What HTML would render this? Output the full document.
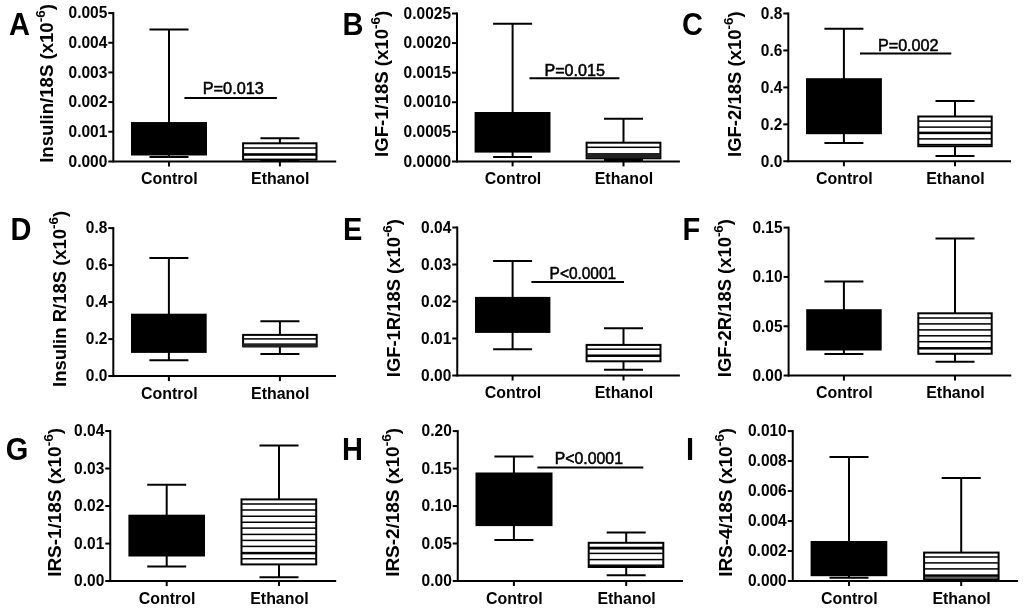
<!DOCTYPE html>
<html><head><meta charset="utf-8"><style>
html,body{margin:0;padding:0;background:#fff;}
body{width:1024px;height:611px;overflow:hidden;}
svg{display:block;filter:blur(0.45px);}
text{font-family:"Liberation Sans",sans-serif;fill:#000;}
</style></head><body>
<svg width="1024" height="611" viewBox="0 0 1024 611">
<rect width="1024" height="611" fill="#fff"/>
<g stroke="#000" stroke-linecap="butt">
<line x1="113.3" y1="12.1" x2="113.3" y2="162.4" stroke-width="2"/>
<line x1="108.3" y1="161.4" x2="336.2" y2="161.4" stroke-width="2"/>
<line x1="108.3" y1="131.74" x2="113.3" y2="131.74" stroke-width="2"/>
<line x1="108.3" y1="102.08" x2="113.3" y2="102.08" stroke-width="2"/>
<line x1="108.3" y1="72.42" x2="113.3" y2="72.42" stroke-width="2"/>
<line x1="108.3" y1="42.76" x2="113.3" y2="42.76" stroke-width="2"/>
<line x1="108.3" y1="13.1" x2="113.3" y2="13.1" stroke-width="2"/>
<line x1="169" y1="161.4" x2="169" y2="166.4" stroke-width="2"/>
<line x1="279.9" y1="161.4" x2="279.9" y2="166.4" stroke-width="2"/>
<line x1="169" y1="29.4" x2="169" y2="157" stroke-width="2"/>
<line x1="149.5" y1="29.4" x2="188.5" y2="29.4" stroke-width="2"/>
<line x1="149.5" y1="157" x2="188.5" y2="157" stroke-width="2"/>
<line x1="279.9" y1="138.25" x2="279.9" y2="160" stroke-width="2"/>
<line x1="260.4" y1="138.25" x2="299.4" y2="138.25" stroke-width="2"/>
<line x1="260.4" y1="160" x2="299.4" y2="160" stroke-width="2"/>
<line x1="184.4" y1="97.95" x2="276.9" y2="97.95" stroke-width="2"/>
</g>
<rect x="131" y="122.05" width="76" height="33.45" fill="#000"/>
<rect x="243.1" y="143.3" width="73.4" height="16.3" fill="#fff" stroke="#000" stroke-width="2"/>
<rect x="243.1" y="147.25" width="73.4" height="1.5" fill="#000"/>
<rect x="243.1" y="153.2" width="73.4" height="2.6" fill="#000"/>
<text transform="translate(107.3,161.4) scale(1,1.075)" y="4.88" font-size="15.5" text-anchor="end" font-weight="bold">0.000</text>
<text transform="translate(107.3,131.74) scale(1,1.075)" y="4.88" font-size="15.5" text-anchor="end" font-weight="bold">0.001</text>
<text transform="translate(107.3,102.08) scale(1,1.075)" y="4.88" font-size="15.5" text-anchor="end" font-weight="bold">0.002</text>
<text transform="translate(107.3,72.42) scale(1,1.075)" y="4.88" font-size="15.5" text-anchor="end" font-weight="bold">0.003</text>
<text transform="translate(107.3,42.76) scale(1,1.075)" y="4.88" font-size="15.5" text-anchor="end" font-weight="bold">0.004</text>
<text transform="translate(107.3,13.1) scale(1,1.075)" y="4.88" font-size="15.5" text-anchor="end" font-weight="bold">0.005</text>
<text transform="translate(169.4,183.9) scale(1.028,1.05)" font-size="15.5" text-anchor="middle" font-weight="bold">Control</text>
<text transform="translate(280.3,183.9) scale(1.028,1.05)" font-size="15.5" text-anchor="middle" font-weight="bold">Ethanol</text>
<text transform="translate(9,34.55) scale(1,1.06)" font-size="29" font-weight="bold">A</text>
<text transform="translate(53,83.45) rotate(-90) scale(1.022,1)" x="0" y="0" font-size="18.2" text-anchor="middle" font-weight="bold">Insulin/18S (x10<tspan font-size="13.2" dy="-8">-6</tspan><tspan dy="8">)</tspan></text>
<text transform="translate(202.66,94.3) scale(1.046,1)" font-size="15.6" stroke="#000" stroke-width="0.5">P=0.013</text>
<g stroke="#000" stroke-linecap="butt">
<line x1="457" y1="12.5" x2="457" y2="162.4" stroke-width="2"/>
<line x1="452" y1="161.4" x2="679.9" y2="161.4" stroke-width="2"/>
<line x1="452" y1="131.82" x2="457" y2="131.82" stroke-width="2"/>
<line x1="452" y1="102.24" x2="457" y2="102.24" stroke-width="2"/>
<line x1="452" y1="72.66" x2="457" y2="72.66" stroke-width="2"/>
<line x1="452" y1="43.08" x2="457" y2="43.08" stroke-width="2"/>
<line x1="452" y1="13.5" x2="457" y2="13.5" stroke-width="2"/>
<line x1="512.6" y1="161.4" x2="512.6" y2="166.4" stroke-width="2"/>
<line x1="623.5" y1="161.4" x2="623.5" y2="166.4" stroke-width="2"/>
<line x1="512.6" y1="23.8" x2="512.6" y2="157.1" stroke-width="2"/>
<line x1="493.1" y1="23.8" x2="532.1" y2="23.8" stroke-width="2"/>
<line x1="493.1" y1="157.1" x2="532.1" y2="157.1" stroke-width="2"/>
<line x1="623.5" y1="118.8" x2="623.5" y2="160" stroke-width="2"/>
<line x1="604" y1="118.8" x2="643" y2="118.8" stroke-width="2"/>
<line x1="604" y1="160" x2="643" y2="160" stroke-width="2"/>
<line x1="529.5" y1="78.2" x2="619.4" y2="78.2" stroke-width="2"/>
</g>
<rect x="474.6" y="112" width="75.9" height="40.6" fill="#000"/>
<rect x="586.6" y="142.7" width="73.8" height="15.6" fill="#fff" stroke="#000" stroke-width="2"/>
<rect x="586.6" y="146.55" width="73.8" height="1.5" fill="#000"/>
<rect x="586.6" y="153" width="73.8" height="5.3" fill="#222"/>
<text transform="translate(451,161.4) scale(1,1.075)" y="4.88" font-size="15.5" text-anchor="end" font-weight="bold">0.0000</text>
<text transform="translate(451,131.82) scale(1,1.075)" y="4.88" font-size="15.5" text-anchor="end" font-weight="bold">0.0005</text>
<text transform="translate(451,102.24) scale(1,1.075)" y="4.88" font-size="15.5" text-anchor="end" font-weight="bold">0.0010</text>
<text transform="translate(451,72.66) scale(1,1.075)" y="4.88" font-size="15.5" text-anchor="end" font-weight="bold">0.0015</text>
<text transform="translate(451,43.08) scale(1,1.075)" y="4.88" font-size="15.5" text-anchor="end" font-weight="bold">0.0020</text>
<text transform="translate(451,13.5) scale(1,1.075)" y="4.88" font-size="15.5" text-anchor="end" font-weight="bold">0.0025</text>
<text transform="translate(513,183.9) scale(1.028,1.05)" font-size="15.5" text-anchor="middle" font-weight="bold">Control</text>
<text transform="translate(623.9,183.9) scale(1.028,1.05)" font-size="15.5" text-anchor="middle" font-weight="bold">Ethanol</text>
<text transform="translate(342.6,34.55) scale(1,1.06)" font-size="29" font-weight="bold">B</text>
<text transform="translate(388,83.9) rotate(-90) scale(1.021,1)" x="0" y="0" font-size="18.2" text-anchor="middle" font-weight="bold">IGF-1/18S (x10<tspan font-size="13.2" dy="-8">-6</tspan><tspan dy="8">)</tspan></text>
<text transform="translate(544.43,75.5) scale(1.035,1)" font-size="15.6" stroke="#000" stroke-width="0.5">P=0.015</text>
<g stroke="#000" stroke-linecap="butt">
<line x1="788.3" y1="12.5" x2="788.3" y2="162.3" stroke-width="2"/>
<line x1="783.3" y1="161.3" x2="1011" y2="161.3" stroke-width="2"/>
<line x1="783.3" y1="124.35" x2="788.3" y2="124.35" stroke-width="2"/>
<line x1="783.3" y1="87.4" x2="788.3" y2="87.4" stroke-width="2"/>
<line x1="783.3" y1="50.45" x2="788.3" y2="50.45" stroke-width="2"/>
<line x1="783.3" y1="13.5" x2="788.3" y2="13.5" stroke-width="2"/>
<line x1="843.9" y1="161.3" x2="843.9" y2="166.3" stroke-width="2"/>
<line x1="955" y1="161.3" x2="955" y2="166.3" stroke-width="2"/>
<line x1="843.9" y1="28.8" x2="843.9" y2="143.1" stroke-width="2"/>
<line x1="824.4" y1="28.8" x2="863.4" y2="28.8" stroke-width="2"/>
<line x1="824.4" y1="143.1" x2="863.4" y2="143.1" stroke-width="2"/>
<line x1="955" y1="101" x2="955" y2="155.9" stroke-width="2"/>
<line x1="935.5" y1="101" x2="974.5" y2="101" stroke-width="2"/>
<line x1="935.5" y1="155.9" x2="974.5" y2="155.9" stroke-width="2"/>
<line x1="860" y1="53.6" x2="951.3" y2="53.6" stroke-width="2"/>
</g>
<rect x="806" y="78.2" width="75.9" height="56" fill="#000"/>
<rect x="918.3" y="116.5" width="73.4" height="29.7" fill="#fff" stroke="#000" stroke-width="2"/>
<rect x="918.3" y="120.35" width="73.4" height="1.5" fill="#000"/>
<rect x="918.3" y="126.35" width="73.4" height="1.5" fill="#000"/>
<rect x="918.3" y="131.65" width="73.4" height="2.5" fill="#000"/>
<rect x="918.3" y="138.15" width="73.4" height="1.5" fill="#000"/>
<rect x="918.3" y="143.85" width="73.4" height="1.5" fill="#000"/>
<text transform="translate(782.3,161.3) scale(1,1.075)" y="4.88" font-size="15.5" text-anchor="end" font-weight="bold">0.0</text>
<text transform="translate(782.3,124.35) scale(1,1.075)" y="4.88" font-size="15.5" text-anchor="end" font-weight="bold">0.2</text>
<text transform="translate(782.3,87.4) scale(1,1.075)" y="4.88" font-size="15.5" text-anchor="end" font-weight="bold">0.4</text>
<text transform="translate(782.3,50.45) scale(1,1.075)" y="4.88" font-size="15.5" text-anchor="end" font-weight="bold">0.6</text>
<text transform="translate(782.3,13.5) scale(1,1.075)" y="4.88" font-size="15.5" text-anchor="end" font-weight="bold">0.8</text>
<text transform="translate(844.3,183.8) scale(1.028,1.05)" font-size="15.5" text-anchor="middle" font-weight="bold">Control</text>
<text transform="translate(955.4,183.8) scale(1.028,1.05)" font-size="15.5" text-anchor="middle" font-weight="bold">Ethanol</text>
<text transform="translate(682,34.55) scale(1,1.06)" font-size="29" font-weight="bold">C</text>
<text transform="translate(741,84.2) rotate(-90) scale(1.017,1)" x="0" y="0" font-size="18.2" text-anchor="middle" font-weight="bold">IGF-2/18S (x10<tspan font-size="13.2" dy="-8">-6</tspan><tspan dy="8">)</tspan></text>
<text transform="translate(877.92,50.6) scale(1.036,1)" font-size="15.6" stroke="#000" stroke-width="0.5">P=0.002</text>
<g stroke="#000" stroke-linecap="butt">
<line x1="113.3" y1="227.1" x2="113.3" y2="377.1" stroke-width="2"/>
<line x1="108.3" y1="376.1" x2="336" y2="376.1" stroke-width="2"/>
<line x1="108.3" y1="339.1" x2="113.3" y2="339.1" stroke-width="2"/>
<line x1="108.3" y1="302.1" x2="113.3" y2="302.1" stroke-width="2"/>
<line x1="108.3" y1="265.1" x2="113.3" y2="265.1" stroke-width="2"/>
<line x1="108.3" y1="228.1" x2="113.3" y2="228.1" stroke-width="2"/>
<line x1="168.9" y1="376.1" x2="168.9" y2="381.1" stroke-width="2"/>
<line x1="279.9" y1="376.1" x2="279.9" y2="381.1" stroke-width="2"/>
<line x1="168.9" y1="257.9" x2="168.9" y2="360.2" stroke-width="2"/>
<line x1="149.4" y1="257.9" x2="188.4" y2="257.9" stroke-width="2"/>
<line x1="149.4" y1="360.2" x2="188.4" y2="360.2" stroke-width="2"/>
<line x1="279.9" y1="321.15" x2="279.9" y2="354.1" stroke-width="2"/>
<line x1="260.4" y1="321.15" x2="299.4" y2="321.15" stroke-width="2"/>
<line x1="260.4" y1="354.1" x2="299.4" y2="354.1" stroke-width="2"/>
</g>
<rect x="131" y="313.7" width="75.7" height="39.2" fill="#000"/>
<rect x="243.1" y="334.9" width="73.6" height="11.4" fill="#fff" stroke="#000" stroke-width="2"/>
<rect x="243.1" y="338.15" width="73.6" height="1.5" fill="#000"/>
<rect x="243.1" y="343.3" width="73.6" height="4" fill="#222"/>
<text transform="translate(107.3,376.1) scale(1,1.075)" y="4.88" font-size="15.5" text-anchor="end" font-weight="bold">0.0</text>
<text transform="translate(107.3,339.1) scale(1,1.075)" y="4.88" font-size="15.5" text-anchor="end" font-weight="bold">0.2</text>
<text transform="translate(107.3,302.1) scale(1,1.075)" y="4.88" font-size="15.5" text-anchor="end" font-weight="bold">0.4</text>
<text transform="translate(107.3,265.1) scale(1,1.075)" y="4.88" font-size="15.5" text-anchor="end" font-weight="bold">0.6</text>
<text transform="translate(107.3,228.1) scale(1,1.075)" y="4.88" font-size="15.5" text-anchor="end" font-weight="bold">0.8</text>
<text transform="translate(169.3,398.6) scale(1.028,1.05)" font-size="15.5" text-anchor="middle" font-weight="bold">Control</text>
<text transform="translate(280.3,398.6) scale(1.028,1.05)" font-size="15.5" text-anchor="middle" font-weight="bold">Ethanol</text>
<text transform="translate(10.6,239.8) scale(1,1.06)" font-size="29" font-weight="bold">D</text>
<text transform="translate(66,298.9) rotate(-90) scale(1.016,1)" x="0" y="0" font-size="18.2" text-anchor="middle" font-weight="bold">Insulin R/18S (x10<tspan font-size="13.2" dy="-8">-6</tspan><tspan dy="8">)</tspan></text>
<g stroke="#000" stroke-linecap="butt">
<line x1="457.25" y1="226.5" x2="457.25" y2="376.5" stroke-width="2"/>
<line x1="452.25" y1="375.5" x2="679.9" y2="375.5" stroke-width="2"/>
<line x1="452.25" y1="338.5" x2="457.25" y2="338.5" stroke-width="2"/>
<line x1="452.25" y1="301.5" x2="457.25" y2="301.5" stroke-width="2"/>
<line x1="452.25" y1="264.5" x2="457.25" y2="264.5" stroke-width="2"/>
<line x1="452.25" y1="227.5" x2="457.25" y2="227.5" stroke-width="2"/>
<line x1="512.6" y1="375.5" x2="512.6" y2="380.5" stroke-width="2"/>
<line x1="623.5" y1="375.5" x2="623.5" y2="380.5" stroke-width="2"/>
<line x1="512.6" y1="261" x2="512.6" y2="349.2" stroke-width="2"/>
<line x1="493.1" y1="261" x2="532.1" y2="261" stroke-width="2"/>
<line x1="493.1" y1="349.2" x2="532.1" y2="349.2" stroke-width="2"/>
<line x1="623.5" y1="328.3" x2="623.5" y2="369.7" stroke-width="2"/>
<line x1="604" y1="328.3" x2="643" y2="328.3" stroke-width="2"/>
<line x1="604" y1="369.7" x2="643" y2="369.7" stroke-width="2"/>
<line x1="531.4" y1="281.9" x2="624" y2="281.9" stroke-width="2"/>
</g>
<rect x="475" y="296.9" width="75.4" height="36" fill="#000"/>
<rect x="586.6" y="344.9" width="73.9" height="16.4" fill="#fff" stroke="#000" stroke-width="2"/>
<rect x="586.6" y="348.45" width="73.9" height="1.5" fill="#000"/>
<rect x="586.6" y="354.45" width="73.9" height="2.5" fill="#000"/>
<text transform="translate(451.25,375.5) scale(1,1.075)" y="4.88" font-size="15.5" text-anchor="end" font-weight="bold">0.00</text>
<text transform="translate(451.25,338.5) scale(1,1.075)" y="4.88" font-size="15.5" text-anchor="end" font-weight="bold">0.01</text>
<text transform="translate(451.25,301.5) scale(1,1.075)" y="4.88" font-size="15.5" text-anchor="end" font-weight="bold">0.02</text>
<text transform="translate(451.25,264.5) scale(1,1.075)" y="4.88" font-size="15.5" text-anchor="end" font-weight="bold">0.03</text>
<text transform="translate(451.25,227.5) scale(1,1.075)" y="4.88" font-size="15.5" text-anchor="end" font-weight="bold">0.04</text>
<text transform="translate(513,398) scale(1.028,1.05)" font-size="15.5" text-anchor="middle" font-weight="bold">Control</text>
<text transform="translate(623.9,398) scale(1.028,1.05)" font-size="15.5" text-anchor="middle" font-weight="bold">Ethanol</text>
<text transform="translate(343,239.8) scale(1,1.06)" font-size="29" font-weight="bold">E</text>
<text transform="translate(399.6,298.15) rotate(-90) scale(1.012,1)" x="0" y="0" font-size="18.2" text-anchor="middle" font-weight="bold">IGF-1R/18S (x10<tspan font-size="13.2" dy="-8">-6</tspan><tspan dy="8">)</tspan></text>
<text transform="translate(549.58,278.5) scale(0.991,1)" font-size="15.6" stroke="#000" stroke-width="0.5">P&lt;0.0001</text>
<g stroke="#000" stroke-linecap="butt">
<line x1="788.6" y1="226.6" x2="788.6" y2="376.6" stroke-width="2"/>
<line x1="783.6" y1="375.6" x2="1011.3" y2="375.6" stroke-width="2"/>
<line x1="783.6" y1="326.27" x2="788.6" y2="326.27" stroke-width="2"/>
<line x1="783.6" y1="276.93" x2="788.6" y2="276.93" stroke-width="2"/>
<line x1="783.6" y1="227.6" x2="788.6" y2="227.6" stroke-width="2"/>
<line x1="843.9" y1="375.6" x2="843.9" y2="380.6" stroke-width="2"/>
<line x1="955" y1="375.6" x2="955" y2="380.6" stroke-width="2"/>
<line x1="843.9" y1="281.55" x2="843.9" y2="353.9" stroke-width="2"/>
<line x1="824.4" y1="281.55" x2="863.4" y2="281.55" stroke-width="2"/>
<line x1="824.4" y1="353.9" x2="863.4" y2="353.9" stroke-width="2"/>
<line x1="955" y1="238.55" x2="955" y2="361.8" stroke-width="2"/>
<line x1="935.5" y1="238.55" x2="974.5" y2="238.55" stroke-width="2"/>
<line x1="935.5" y1="361.8" x2="974.5" y2="361.8" stroke-width="2"/>
</g>
<rect x="806.2" y="309.2" width="75.5" height="41.3" fill="#000"/>
<rect x="918.3" y="313.3" width="73.4" height="40.5" fill="#fff" stroke="#000" stroke-width="2"/>
<rect x="918.3" y="317.25" width="73.4" height="1.5" fill="#000"/>
<rect x="918.3" y="323.15" width="73.4" height="1.5" fill="#000"/>
<rect x="918.3" y="329.15" width="73.4" height="1.5" fill="#000"/>
<rect x="918.3" y="335.05" width="73.4" height="1.5" fill="#000"/>
<rect x="918.3" y="340.95" width="73.4" height="1.5" fill="#000"/>
<rect x="918.3" y="347.05" width="73.4" height="2.5" fill="#000"/>
<text transform="translate(782.6,375.6) scale(1,1.075)" y="4.88" font-size="15.5" text-anchor="end" font-weight="bold">0.00</text>
<text transform="translate(782.6,326.27) scale(1,1.075)" y="4.88" font-size="15.5" text-anchor="end" font-weight="bold">0.05</text>
<text transform="translate(782.6,276.93) scale(1,1.075)" y="4.88" font-size="15.5" text-anchor="end" font-weight="bold">0.10</text>
<text transform="translate(782.6,227.6) scale(1,1.075)" y="4.88" font-size="15.5" text-anchor="end" font-weight="bold">0.15</text>
<text transform="translate(844.3,398.1) scale(1.028,1.05)" font-size="15.5" text-anchor="middle" font-weight="bold">Control</text>
<text transform="translate(955.4,398.1) scale(1.028,1.05)" font-size="15.5" text-anchor="middle" font-weight="bold">Ethanol</text>
<text transform="translate(682.4,239.8) scale(1,1.06)" font-size="29" font-weight="bold">F</text>
<text transform="translate(730.7,298.15) rotate(-90) scale(1.012,1)" x="0" y="0" font-size="18.2" text-anchor="middle" font-weight="bold">IGF-2R/18S (x10<tspan font-size="13.2" dy="-8">-6</tspan><tspan dy="8">)</tspan></text>
<g stroke="#000" stroke-linecap="butt">
<line x1="110.25" y1="430" x2="110.25" y2="582.1" stroke-width="2"/>
<line x1="105.25" y1="581.1" x2="336.2" y2="581.1" stroke-width="2"/>
<line x1="105.25" y1="543.58" x2="110.25" y2="543.58" stroke-width="2"/>
<line x1="105.25" y1="506.05" x2="110.25" y2="506.05" stroke-width="2"/>
<line x1="105.25" y1="468.52" x2="110.25" y2="468.52" stroke-width="2"/>
<line x1="105.25" y1="431" x2="110.25" y2="431" stroke-width="2"/>
<line x1="166.7" y1="581.1" x2="166.7" y2="586.1" stroke-width="2"/>
<line x1="279" y1="581.1" x2="279" y2="586.1" stroke-width="2"/>
<line x1="166.7" y1="484.7" x2="166.7" y2="566.5" stroke-width="2"/>
<line x1="147.2" y1="484.7" x2="186.2" y2="484.7" stroke-width="2"/>
<line x1="147.2" y1="566.5" x2="186.2" y2="566.5" stroke-width="2"/>
<line x1="279" y1="445.6" x2="279" y2="577.3" stroke-width="2"/>
<line x1="259.5" y1="445.6" x2="298.5" y2="445.6" stroke-width="2"/>
<line x1="259.5" y1="577.3" x2="298.5" y2="577.3" stroke-width="2"/>
</g>
<rect x="128.4" y="514.7" width="76.6" height="41.8" fill="#000"/>
<rect x="241.5" y="499.4" width="74.7" height="65" fill="#fff" stroke="#000" stroke-width="2"/>
<rect x="241.5" y="503.25" width="74.7" height="1.5" fill="#000"/>
<rect x="241.5" y="509.25" width="74.7" height="1.5" fill="#000"/>
<rect x="241.5" y="515.5" width="74.7" height="1.5" fill="#000"/>
<rect x="241.5" y="521.5" width="74.7" height="1.5" fill="#000"/>
<rect x="241.5" y="527.35" width="74.7" height="1.5" fill="#000"/>
<rect x="241.5" y="533.65" width="74.7" height="1.5" fill="#000"/>
<rect x="241.5" y="539.65" width="74.7" height="1.5" fill="#000"/>
<rect x="241.5" y="545.65" width="74.7" height="1.5" fill="#000"/>
<rect x="241.5" y="551.85" width="74.7" height="2.5" fill="#000"/>
<rect x="241.5" y="558" width="74.7" height="1.5" fill="#000"/>
<text transform="translate(104.25,581.1) scale(1,1.075)" y="4.88" font-size="15.5" text-anchor="end" font-weight="bold">0.00</text>
<text transform="translate(104.25,543.58) scale(1,1.075)" y="4.88" font-size="15.5" text-anchor="end" font-weight="bold">0.01</text>
<text transform="translate(104.25,506.05) scale(1,1.075)" y="4.88" font-size="15.5" text-anchor="end" font-weight="bold">0.02</text>
<text transform="translate(104.25,468.52) scale(1,1.075)" y="4.88" font-size="15.5" text-anchor="end" font-weight="bold">0.03</text>
<text transform="translate(104.25,431) scale(1,1.075)" y="4.88" font-size="15.5" text-anchor="end" font-weight="bold">0.04</text>
<text transform="translate(167.1,603.6) scale(1.028,1.05)" font-size="15.5" text-anchor="middle" font-weight="bold">Control</text>
<text transform="translate(279.4,603.6) scale(1.028,1.05)" font-size="15.5" text-anchor="middle" font-weight="bold">Ethanol</text>
<text transform="translate(5.8,459.6) scale(1,1.06)" font-size="29" font-weight="bold">G</text>
<text transform="translate(61.1,502.35) rotate(-90) scale(1.041,1)" x="0" y="0" font-size="18.2" text-anchor="middle" font-weight="bold">IRS-1/18S (x10<tspan font-size="13.2" dy="-8">-6</tspan><tspan dy="8">)</tspan></text>
<g stroke="#000" stroke-linecap="butt">
<line x1="457.75" y1="430.1" x2="457.75" y2="582" stroke-width="2"/>
<line x1="452.75" y1="581" x2="683" y2="581" stroke-width="2"/>
<line x1="452.75" y1="543.52" x2="457.75" y2="543.52" stroke-width="2"/>
<line x1="452.75" y1="506.05" x2="457.75" y2="506.05" stroke-width="2"/>
<line x1="452.75" y1="468.58" x2="457.75" y2="468.58" stroke-width="2"/>
<line x1="452.75" y1="431.1" x2="457.75" y2="431.1" stroke-width="2"/>
<line x1="513.9" y1="581" x2="513.9" y2="586" stroke-width="2"/>
<line x1="626.2" y1="581" x2="626.2" y2="586" stroke-width="2"/>
<line x1="513.9" y1="456.5" x2="513.9" y2="539.9" stroke-width="2"/>
<line x1="494.4" y1="456.5" x2="533.4" y2="456.5" stroke-width="2"/>
<line x1="494.4" y1="539.9" x2="533.4" y2="539.9" stroke-width="2"/>
<line x1="626.2" y1="532.6" x2="626.2" y2="575.3" stroke-width="2"/>
<line x1="606.7" y1="532.6" x2="645.7" y2="532.6" stroke-width="2"/>
<line x1="606.7" y1="575.3" x2="645.7" y2="575.3" stroke-width="2"/>
<line x1="537.4" y1="467.4" x2="643.3" y2="467.4" stroke-width="2"/>
</g>
<rect x="475.5" y="472.5" width="77" height="53.6" fill="#000"/>
<rect x="588.7" y="542.8" width="74.6" height="24.2" fill="#fff" stroke="#000" stroke-width="2"/>
<rect x="588.7" y="546.7" width="74.6" height="2.8" fill="#000"/>
<rect x="588.7" y="552.65" width="74.6" height="1.5" fill="#000"/>
<rect x="588.7" y="558.85" width="74.6" height="1.5" fill="#000"/>
<rect x="588.7" y="564.45" width="74.6" height="1.5" fill="#000"/>
<text transform="translate(451.75,581) scale(1,1.075)" y="4.88" font-size="15.5" text-anchor="end" font-weight="bold">0.00</text>
<text transform="translate(451.75,543.52) scale(1,1.075)" y="4.88" font-size="15.5" text-anchor="end" font-weight="bold">0.05</text>
<text transform="translate(451.75,506.05) scale(1,1.075)" y="4.88" font-size="15.5" text-anchor="end" font-weight="bold">0.10</text>
<text transform="translate(451.75,468.58) scale(1,1.075)" y="4.88" font-size="15.5" text-anchor="end" font-weight="bold">0.15</text>
<text transform="translate(451.75,431.1) scale(1,1.075)" y="4.88" font-size="15.5" text-anchor="end" font-weight="bold">0.20</text>
<text transform="translate(514.3,603.5) scale(1.028,1.05)" font-size="15.5" text-anchor="middle" font-weight="bold">Control</text>
<text transform="translate(626.6,603.5) scale(1.028,1.05)" font-size="15.5" text-anchor="middle" font-weight="bold">Ethanol</text>
<text transform="translate(342.1,459.6) scale(1,1.06)" font-size="29" font-weight="bold">H</text>
<text transform="translate(399.3,502.35) rotate(-90) scale(1.041,1)" x="0" y="0" font-size="18.2" text-anchor="middle" font-weight="bold">IRS-2/18S (x10<tspan font-size="13.2" dy="-8">-6</tspan><tspan dy="8">)</tspan></text>
<text transform="translate(554.75,464.2) scale(1.015,1)" font-size="15.6" stroke="#000" stroke-width="0.5">P&lt;0.0001</text>
<g stroke="#000" stroke-linecap="butt">
<line x1="792.75" y1="430.1" x2="792.75" y2="582" stroke-width="2"/>
<line x1="787.75" y1="581" x2="1018.1" y2="581" stroke-width="2"/>
<line x1="787.75" y1="551.02" x2="792.75" y2="551.02" stroke-width="2"/>
<line x1="787.75" y1="521.04" x2="792.75" y2="521.04" stroke-width="2"/>
<line x1="787.75" y1="491.06" x2="792.75" y2="491.06" stroke-width="2"/>
<line x1="787.75" y1="461.08" x2="792.75" y2="461.08" stroke-width="2"/>
<line x1="787.75" y1="431.1" x2="792.75" y2="431.1" stroke-width="2"/>
<line x1="849" y1="581" x2="849" y2="586" stroke-width="2"/>
<line x1="961.2" y1="581" x2="961.2" y2="586" stroke-width="2"/>
<line x1="849" y1="456.9" x2="849" y2="577.8" stroke-width="2"/>
<line x1="829.5" y1="456.9" x2="868.5" y2="456.9" stroke-width="2"/>
<line x1="829.5" y1="577.8" x2="868.5" y2="577.8" stroke-width="2"/>
<line x1="961.2" y1="478.1" x2="961.2" y2="580" stroke-width="2"/>
<line x1="941.7" y1="478.1" x2="980.7" y2="478.1" stroke-width="2"/>
<line x1="941.7" y1="580" x2="980.7" y2="580" stroke-width="2"/>
</g>
<rect x="810.6" y="541" width="76.7" height="35.2" fill="#000"/>
<rect x="924.1" y="552.6" width="74.5" height="26.9" fill="#fff" stroke="#000" stroke-width="2"/>
<rect x="924.1" y="556.25" width="74.5" height="1.5" fill="#000"/>
<rect x="924.1" y="562.15" width="74.5" height="1.5" fill="#000"/>
<rect x="924.1" y="568.15" width="74.5" height="1.5" fill="#000"/>
<rect x="924.1" y="574.35" width="74.5" height="2.5" fill="#000"/>
<rect x="924.1" y="577.4" width="74.5" height="1" fill="#000"/>
<text transform="translate(786.75,581) scale(1,1.075)" y="4.88" font-size="15.5" text-anchor="end" font-weight="bold">0.000</text>
<text transform="translate(786.75,551.02) scale(1,1.075)" y="4.88" font-size="15.5" text-anchor="end" font-weight="bold">0.002</text>
<text transform="translate(786.75,521.04) scale(1,1.075)" y="4.88" font-size="15.5" text-anchor="end" font-weight="bold">0.004</text>
<text transform="translate(786.75,491.06) scale(1,1.075)" y="4.88" font-size="15.5" text-anchor="end" font-weight="bold">0.006</text>
<text transform="translate(786.75,461.08) scale(1,1.075)" y="4.88" font-size="15.5" text-anchor="end" font-weight="bold">0.008</text>
<text transform="translate(786.75,431.1) scale(1,1.075)" y="4.88" font-size="15.5" text-anchor="end" font-weight="bold">0.010</text>
<text transform="translate(849.4,603.5) scale(1.028,1.05)" font-size="15.5" text-anchor="middle" font-weight="bold">Control</text>
<text transform="translate(961.6,603.5) scale(1.028,1.05)" font-size="15.5" text-anchor="middle" font-weight="bold">Ethanol</text>
<text transform="translate(685.9,459.6) scale(1,1.06)" font-size="29" font-weight="bold">I</text>
<text transform="translate(731.5,502.35) rotate(-90) scale(1.041,1)" x="0" y="0" font-size="18.2" text-anchor="middle" font-weight="bold">IRS-4/18S (x10<tspan font-size="13.2" dy="-8">-6</tspan><tspan dy="8">)</tspan></text>
</svg>
</body></html>
